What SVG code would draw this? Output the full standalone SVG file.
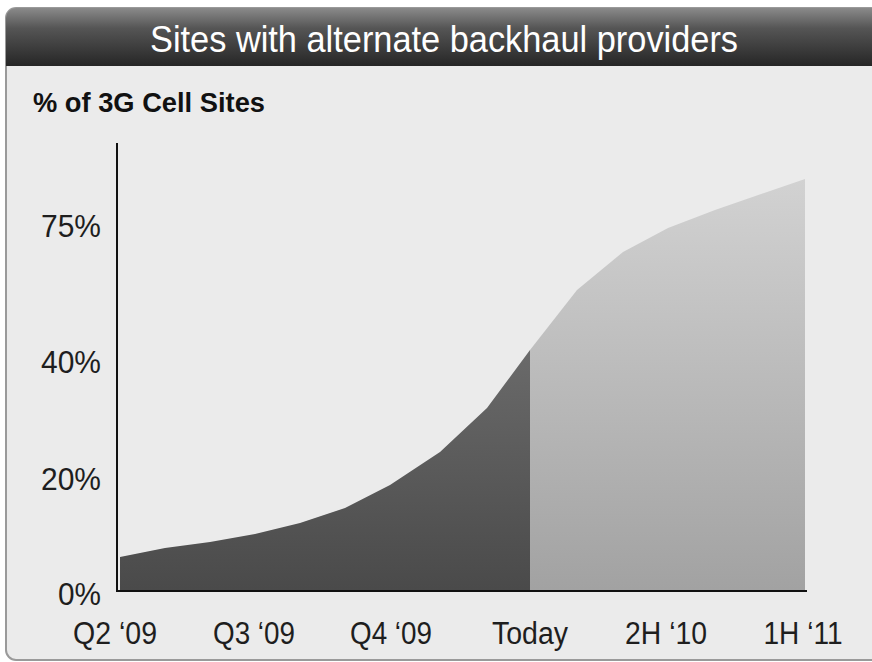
<svg xmlns="http://www.w3.org/2000/svg" width="872" height="662" viewBox="0 0 872 662">
<defs>
<linearGradient id="hdr" x1="0" y1="0" x2="0" y2="1">
<stop offset="0" stop-color="#8a8a8a"/>
<stop offset="0.35" stop-color="#555"/>
<stop offset="1" stop-color="#262626"/>
</linearGradient>
<linearGradient id="dark" x1="0" y1="0" x2="0" y2="1">
<stop offset="0" stop-color="#6a6a6a"/>
<stop offset="1" stop-color="#4a4a4a"/>
</linearGradient>
<linearGradient id="light" x1="0" y1="0" x2="0" y2="1">
<stop offset="0" stop-color="#d2d2d2"/>
<stop offset="1" stop-color="#a2a2a2"/>
</linearGradient>
<clipPath id="frame"><rect x="6" y="8" width="880" height="652" rx="10"/></clipPath>
</defs>
<style>
.ax{font-family:"Liberation Sans",Arial,sans-serif;font-size:31px;fill:#1e1e1e}
.xl{text-anchor:middle}
.yl{text-anchor:end}
</style>
<rect width="872" height="662" fill="#ffffff"/>
<g id="panel">
<rect x="6" y="8" width="880" height="652" rx="10" fill="#ebebeb" stroke="#9a9a9a" stroke-width="2"/>
<rect x="6" y="8" width="880" height="58" fill="url(#hdr)" clip-path="url(#frame)"/>
<text x="444" y="52" text-anchor="middle" font-family="'Liberation Sans',Arial,sans-serif" font-size="37" fill="#ffffff" textLength="588" lengthAdjust="spacingAndGlyphs">Sites with alternate backhaul providers</text>
<text x="33" y="112" font-family="'Liberation Sans',Arial,sans-serif" font-size="27" font-weight="bold" fill="#111" textLength="232" lengthAdjust="spacingAndGlyphs">% of 3G Cell Sites</text>
</g>
<g id="areas">
<path id="actual" d="M120,557 L165,548 L210,542 L255,534 L300,523 L345,508 L390,485 L440,452 L487,408 L530,350 L530,590 L120,590 Z" fill="url(#dark)"/>
<path id="forecast" d="M530,350 L577,290 L623,252 L668,228 L715,210 L805,179 L805,590 L530,590 Z" fill="url(#light)"/>
</g>
<g id="axes" stroke="#111" stroke-width="2" fill="none">
<line x1="117" y1="143" x2="117" y2="592"/>
<line x1="116" y1="591" x2="807" y2="591"/>
</g>
<g id="ylabels">
<text class="ax yl" x="101" y="237" textLength="60" lengthAdjust="spacingAndGlyphs">75%</text>
<text class="ax yl" x="101" y="373" textLength="60" lengthAdjust="spacingAndGlyphs">40%</text>
<text class="ax yl" x="101" y="490" textLength="60" lengthAdjust="spacingAndGlyphs">20%</text>
<text class="ax yl" x="101" y="605" textLength="43" lengthAdjust="spacingAndGlyphs">0%</text>
</g>
<g id="xlabels">
<text class="ax xl" x="115" y="644" textLength="84" lengthAdjust="spacingAndGlyphs">Q2 ‘09</text>
<text class="ax xl" x="254" y="644" textLength="82" lengthAdjust="spacingAndGlyphs">Q3 ‘09</text>
<text class="ax xl" x="391" y="644" textLength="82" lengthAdjust="spacingAndGlyphs">Q4 ‘09</text>
<text class="ax xl" x="530" y="644" textLength="76" lengthAdjust="spacingAndGlyphs">Today</text>
<text class="ax xl" x="666" y="644" textLength="82" lengthAdjust="spacingAndGlyphs">2H ‘10</text>
<text class="ax xl" x="803" y="644" textLength="79" lengthAdjust="spacingAndGlyphs">1H ‘11</text>
</g>
</svg>
